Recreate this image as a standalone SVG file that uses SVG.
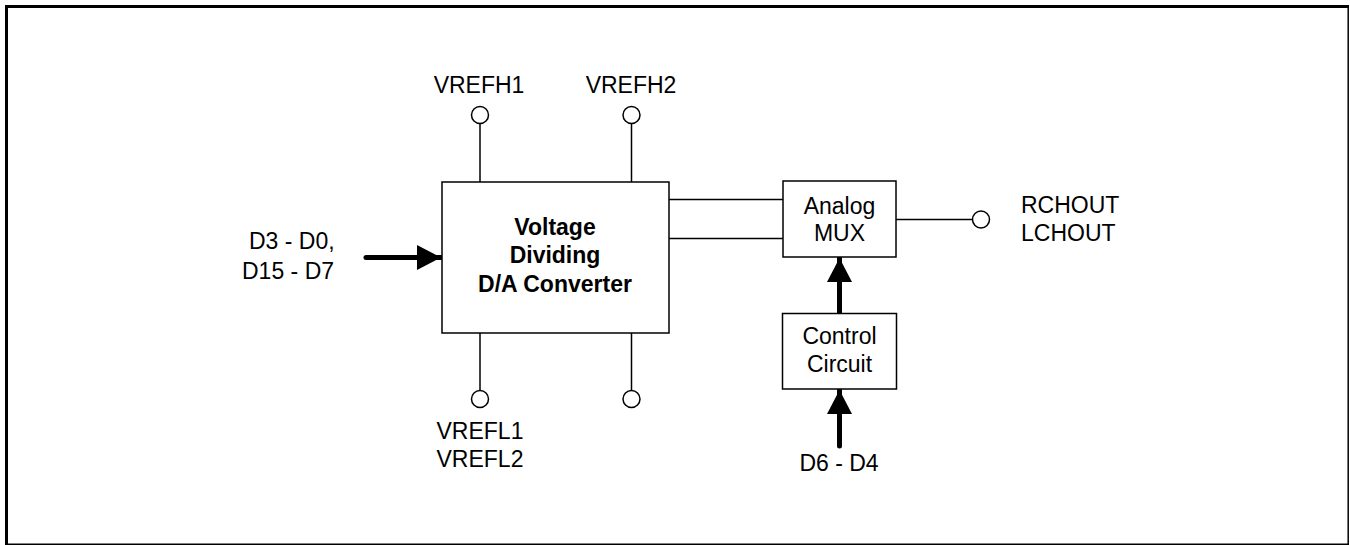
<svg xmlns="http://www.w3.org/2000/svg" width="1350" height="545" viewBox="0 0 1350 545">
<style>
text{font-family:"Liberation Sans",Arial,sans-serif;font-size:23px;fill:#000}
.c{text-anchor:middle}
.b{font-weight:bold}
.box{fill:#fff;stroke:#000;stroke-width:1.5}
.w{stroke:#000;stroke-width:1.5;fill:none}
.pin{fill:#fff;stroke:#000;stroke-width:1.5}
.bus{stroke:#000;stroke-width:5;stroke-linecap:round;fill:none}
</style>
<defs>
<marker id="ah" markerUnits="userSpaceOnUse" markerWidth="26" markerHeight="26" refX="24" refY="12.5" orient="auto">
<path d="M0,0 L24,12.5 L0,25 Z" fill="#000"/>
</marker>
</defs>
<rect width="1350" height="545" fill="#fff"/>
<g id="frame">
<line x1="5" y1="6.5" x2="1349" y2="6.5" stroke="#000" stroke-width="3"/>
<line x1="6.5" y1="5" x2="6.5" y2="545" stroke="#000" stroke-width="3"/>
<line x1="1348.2" y1="5" x2="1348.2" y2="545" stroke="#000" stroke-width="1.5"/>
<line x1="5" y1="544.2" x2="1349" y2="544.2" stroke="#000" stroke-width="1.5"/>
</g>
<g id="connectors">
<line class="w" x1="480" y1="124" x2="480" y2="182"/>
<line class="w" x1="631.5" y1="124" x2="631.5" y2="182"/>
<line class="w" x1="480" y1="333" x2="480" y2="390"/>
<line class="w" x1="631.5" y1="333" x2="631.5" y2="390"/>
<line class="w" x1="669" y1="199.5" x2="783" y2="199.5"/>
<line class="w" x1="669" y1="238.5" x2="783" y2="238.5"/>
<line class="w" x1="896" y1="219.5" x2="972" y2="219.5"/>
<line class="bus" x1="366" y1="257.5" x2="441" y2="257.5" marker-end="url(#ah)"/>
<line class="bus" x1="839.5" y1="313" x2="839.5" y2="258" marker-end="url(#ah)"/>
<line class="bus" x1="839.5" y1="446" x2="839.5" y2="390" marker-end="url(#ah)"/>
</g>
<g id="dac">
<rect class="box" x="442" y="182" width="227" height="151"/>
<text class="c b" x="555" y="235">Voltage</text>
<text class="c b" x="555" y="263">Dividing</text>
<text class="c b" x="555" y="291.5">D/A Converter</text>
</g>
<g id="mux">
<rect class="box" x="783" y="181" width="113" height="76"/>
<text class="c" x="839.5" y="213.5">Analog</text>
<text class="c" x="839.5" y="241">MUX</text>
</g>
<g id="control">
<rect class="box" x="782.5" y="313.5" width="114" height="75.5"/>
<text class="c" x="839.5" y="344">Control</text>
<text class="c" x="839.5" y="371.5">Circuit</text>
</g>
<g id="vrefh1">
<circle class="pin" cx="480" cy="115" r="8.5"/>
<text class="c" x="479" y="93">VREFH1</text>
</g>
<g id="vrefh2">
<circle class="pin" cx="631.5" cy="115" r="8.5"/>
<text class="c" x="631" y="93">VREFH2</text>
</g>
<g id="vrefl1">
<circle class="pin" cx="480" cy="399" r="8.5"/>
<text class="c" x="480" y="439">VREFL1</text>
<text class="c" x="480" y="467">VREFL2</text>
</g>
<g id="vrefl2">
<circle class="pin" cx="631.5" cy="399" r="8.5"/>
</g>
<g id="out">
<circle class="pin" cx="981" cy="219.5" r="8.5"/>
<text x="1021" y="213">RCHOUT</text>
<text x="1021" y="241">LCHOUT</text>
</g>
<g id="din">
<text x="249" y="249">D3 - D0,</text>
<text x="242" y="279">D15 - D7</text>
</g>
<g id="dctl">
<text class="c" x="839" y="471">D6 - D4</text>
</g>
</svg>
